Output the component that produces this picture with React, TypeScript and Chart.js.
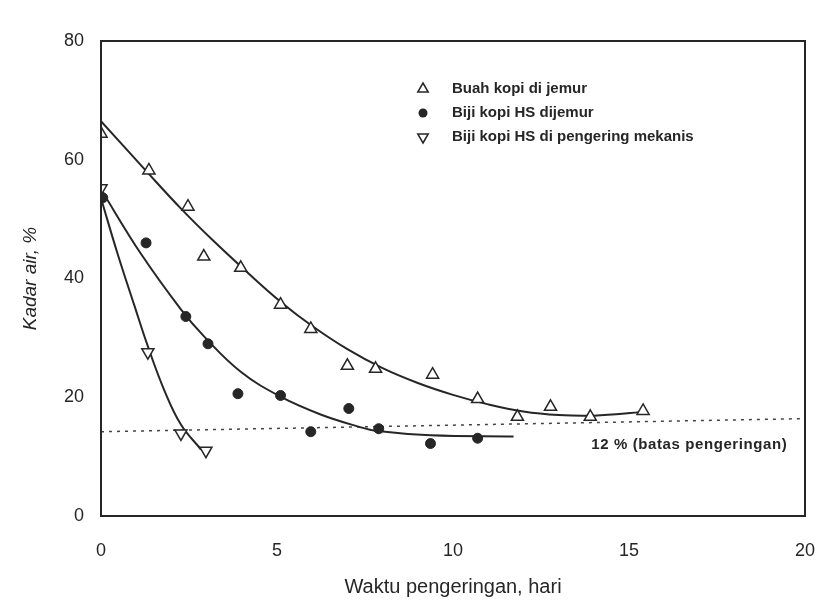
import React, { useEffect, useRef } from 'react';
import { Chart, registerables } from 'chart.js';
Chart.register(...registerables);

// Axis ticks
const xTickValues = [0, 5, 10, 15, 20];
const yTickValues = [0, 20, 40, 60, 80];

// Observed points
const buahX = [0, 1.36, 2.47, 2.92, 3.97, 5.1, 5.96, 7.0, 7.8, 9.42, 10.7, 11.83, 12.77, 13.9, 15.4];
const buahY = [64.4, 58.2, 52.1, 43.7, 41.8, 35.6, 31.5, 25.3, 24.8, 23.8, 19.7, 16.7, 18.4, 16.7, 17.7];
const jemurX = [0.05, 1.28, 2.41, 3.04, 3.89, 5.1, 5.96, 7.04, 7.89, 9.36, 10.7];
const jemurY = [53.6, 46.0, 33.6, 29.0, 20.6, 20.3, 14.2, 18.1, 14.7, 12.2, 13.1];
const mekanisX = [0, 1.33, 2.27, 2.98];
const mekanisY = [55.2, 27.6, 13.9, 11.0];

// Fitted curves
const fitBuahX = [0, 1.3, 2.3, 3.2, 4.2, 5.1, 6.0, 7.0, 8.0, 9.0, 10.0, 11.0, 12.0, 13.0, 14.0, 15.4];
const fitBuahY = [66.5, 58.0, 51.6, 46.3, 40.8, 36.1, 32.0, 28.1, 24.9, 22.4, 20.4, 18.8, 17.6, 17.0, 16.9, 17.5];
const fitJemurX = [0, 1.13, 2.27, 2.92, 3.97, 5.1, 6.24, 7.29, 7.86, 9.36, 11.72];
const fitJemurY = [55.0, 44.2, 34.8, 30.3, 24.3, 20.1, 17.1, 15.1, 14.3, 13.6, 13.4];
const fitMekanisX = [0, 0.48, 0.94, 1.33, 1.79, 2.27, 2.84];
const fitMekanisY = [53.5, 44.0, 35.6, 28.6, 21.3, 15.4, 11.2];

// 12 % drying limit line (as drawn)
const limitX = [0, 20];
const limitY = [14.2, 16.4];

const legendLabels = ['Buah kopi di jemur', 'Biji kopi HS dijemur', 'Biji kopi HS di pengering mekanis'];
const limitLabel = '12 % (batas pengeringan)';
const xTitle = 'Waktu pengeringan, hari';
const yTitle = 'Kadar air, %';

const INK = '#262626';
const FONT = '"Liberation Sans", Arial, sans-serif';

const pts = (xs: number[], ys: number[]) => xs.map((x, i) => ({ x, y: ys[i] }));

function drawMarker(ctx: CanvasRenderingContext2D, kind: number, x: number, y: number) {
  ctx.save();
  ctx.strokeStyle = INK;
  ctx.lineWidth = 1.5;
  if (kind === 1) {
    ctx.fillStyle = INK;
    ctx.beginPath();
    ctx.arc(x, y, 4.5, 0, Math.PI * 2);
    ctx.fill();
  } else {
    const r = 6;
    const s = kind === 0 ? 1 : -1;
    ctx.fillStyle = '#fff';
    ctx.beginPath();
    ctx.moveTo(x, y - s * r);
    ctx.lineTo(x + r * 0.87, y + s * r * 0.5);
    ctx.lineTo(x - r * 0.87, y + s * r * 0.5);
    ctx.closePath();
    ctx.fill();
    ctx.stroke();
  }
  ctx.restore();
}

const decorPlugin = {
  id: 'decor',
  afterDraw(chart: any) {
    const { ctx, chartArea: a, scales } = chart;
    ctx.save();
    // frame
    ctx.strokeStyle = INK;
    ctx.lineWidth = 2;
    ctx.strokeRect(a.left, a.top, a.right - a.left, a.bottom - a.top);
    // legend
    const rows = [89, 113, 137];
    ctx.font = `bold 15px ${FONT}`;
    ctx.fillStyle = INK;
    ctx.textBaseline = 'middle';
    ctx.textAlign = 'left';
    legendLabels.forEach((t, i) => {
      drawMarker(ctx, i, 423, rows[i]);
      ctx.fillText(t, 452, rows[i]);
    });
    // limit label
    ctx.font = `bold 15px ${FONT}`;
    (ctx as any).letterSpacing = '0.6px';
    ctx.textAlign = 'right';
    ctx.fillText(limitLabel, scales.x.getPixelForValue(19.5), scales.y.getPixelForValue(12));
    ctx.restore();
  },
};

export default function App() {
  const ref = useRef<HTMLCanvasElement | null>(null);
  useEffect(() => {
    document.body.style.margin = '0';
    const canvas = ref.current!;
    const fitLine = (xs: number[], ys: number[], label: string) => ({
      label,
      data: pts(xs, ys),
      showLine: true,
      pointRadius: 0,
      borderColor: INK,
      borderWidth: 2,
      tension: 0.4,
    });
    const chart = new Chart(canvas, {
      type: 'scatter',
      data: {
        datasets: [
          {
            label: legendLabels[0],
            data: pts(buahX, buahY),
            pointStyle: 'triangle',
            pointRadius: 7,
            pointBackgroundColor: '#fff',
            pointBorderColor: INK,
            pointBorderWidth: 1.5,
            showLine: false,
          },
          {
            label: legendLabels[1],
            data: pts(jemurX, jemurY),
            pointStyle: 'circle',
            pointRadius: 5,
            pointBackgroundColor: INK,
            pointBorderColor: INK,
            pointBorderWidth: 1,
            showLine: false,
          },
          {
            label: legendLabels[2],
            data: pts(mekanisX, mekanisY),
            pointStyle: 'triangle',
            rotation: 180,
            pointRadius: 7,
            pointBackgroundColor: '#fff',
            pointBorderColor: INK,
            pointBorderWidth: 1.5,
            showLine: false,
          },
          fitLine(fitBuahX, fitBuahY, 'fit1'),
          fitLine(fitJemurX, fitJemurY, 'fit2'),
          fitLine(fitMekanisX, fitMekanisY, 'fit3'),
          {
            label: 'limit',
            data: pts(limitX, limitY),
            showLine: true,
            pointRadius: 0,
            borderColor: '#444',
            borderWidth: 1.5,
            borderDash: [3, 5],
          },
        ],
      } as any,
      options: {
        responsive: false,
        animation: false,
        layout: { padding: { left: 0, right: 15, top: 41, bottom: 0 } },
        plugins: { legend: { display: false }, tooltip: { enabled: false } },
        scales: {
          x: {
            type: 'linear',
            min: 0,
            max: 20,
            afterBuildTicks: (s: any) => { s.ticks = xTickValues.map((v) => ({ value: v })); },
            afterFit: (s: any) => { s.height = 88; s.paddingLeft = 0; s.paddingRight = 0; },
            grid: { display: false, drawTicks: false },
            border: { display: false },
            ticks: { color: INK, padding: 24, font: { family: FONT, size: 18 } },
            title: {
              display: true,
              text: xTitle,
              color: INK,
              font: { family: FONT, size: 20 },
              padding: { top: 0, bottom: 5 },
            },
          },
          y: {
            type: 'linear',
            min: 0,
            max: 80,
            afterBuildTicks: (s: any) => { s.ticks = yTickValues.map((v) => ({ value: v })); },
            afterFit: (s: any) => { s.width = 101; s.paddingTop = 0; s.paddingBottom = 0; },
            grid: { display: false, drawTicks: false },
            border: { display: false },
            ticks: { color: INK, padding: 17, font: { family: FONT, size: 18 } },
            title: {
              display: true,
              text: yTitle,
              color: INK,
              font: { family: FONT, size: 19, style: 'italic' },
              padding: { top: 19, bottom: 0 },
            },
          },
        },
      } as any,
      plugins: [decorPlugin],
    });
    return () => chart.destroy();
  }, []);
  return <canvas ref={ref} width={820} height={604} style={{ display: 'block', width: 820, height: 604 }} />;
}
